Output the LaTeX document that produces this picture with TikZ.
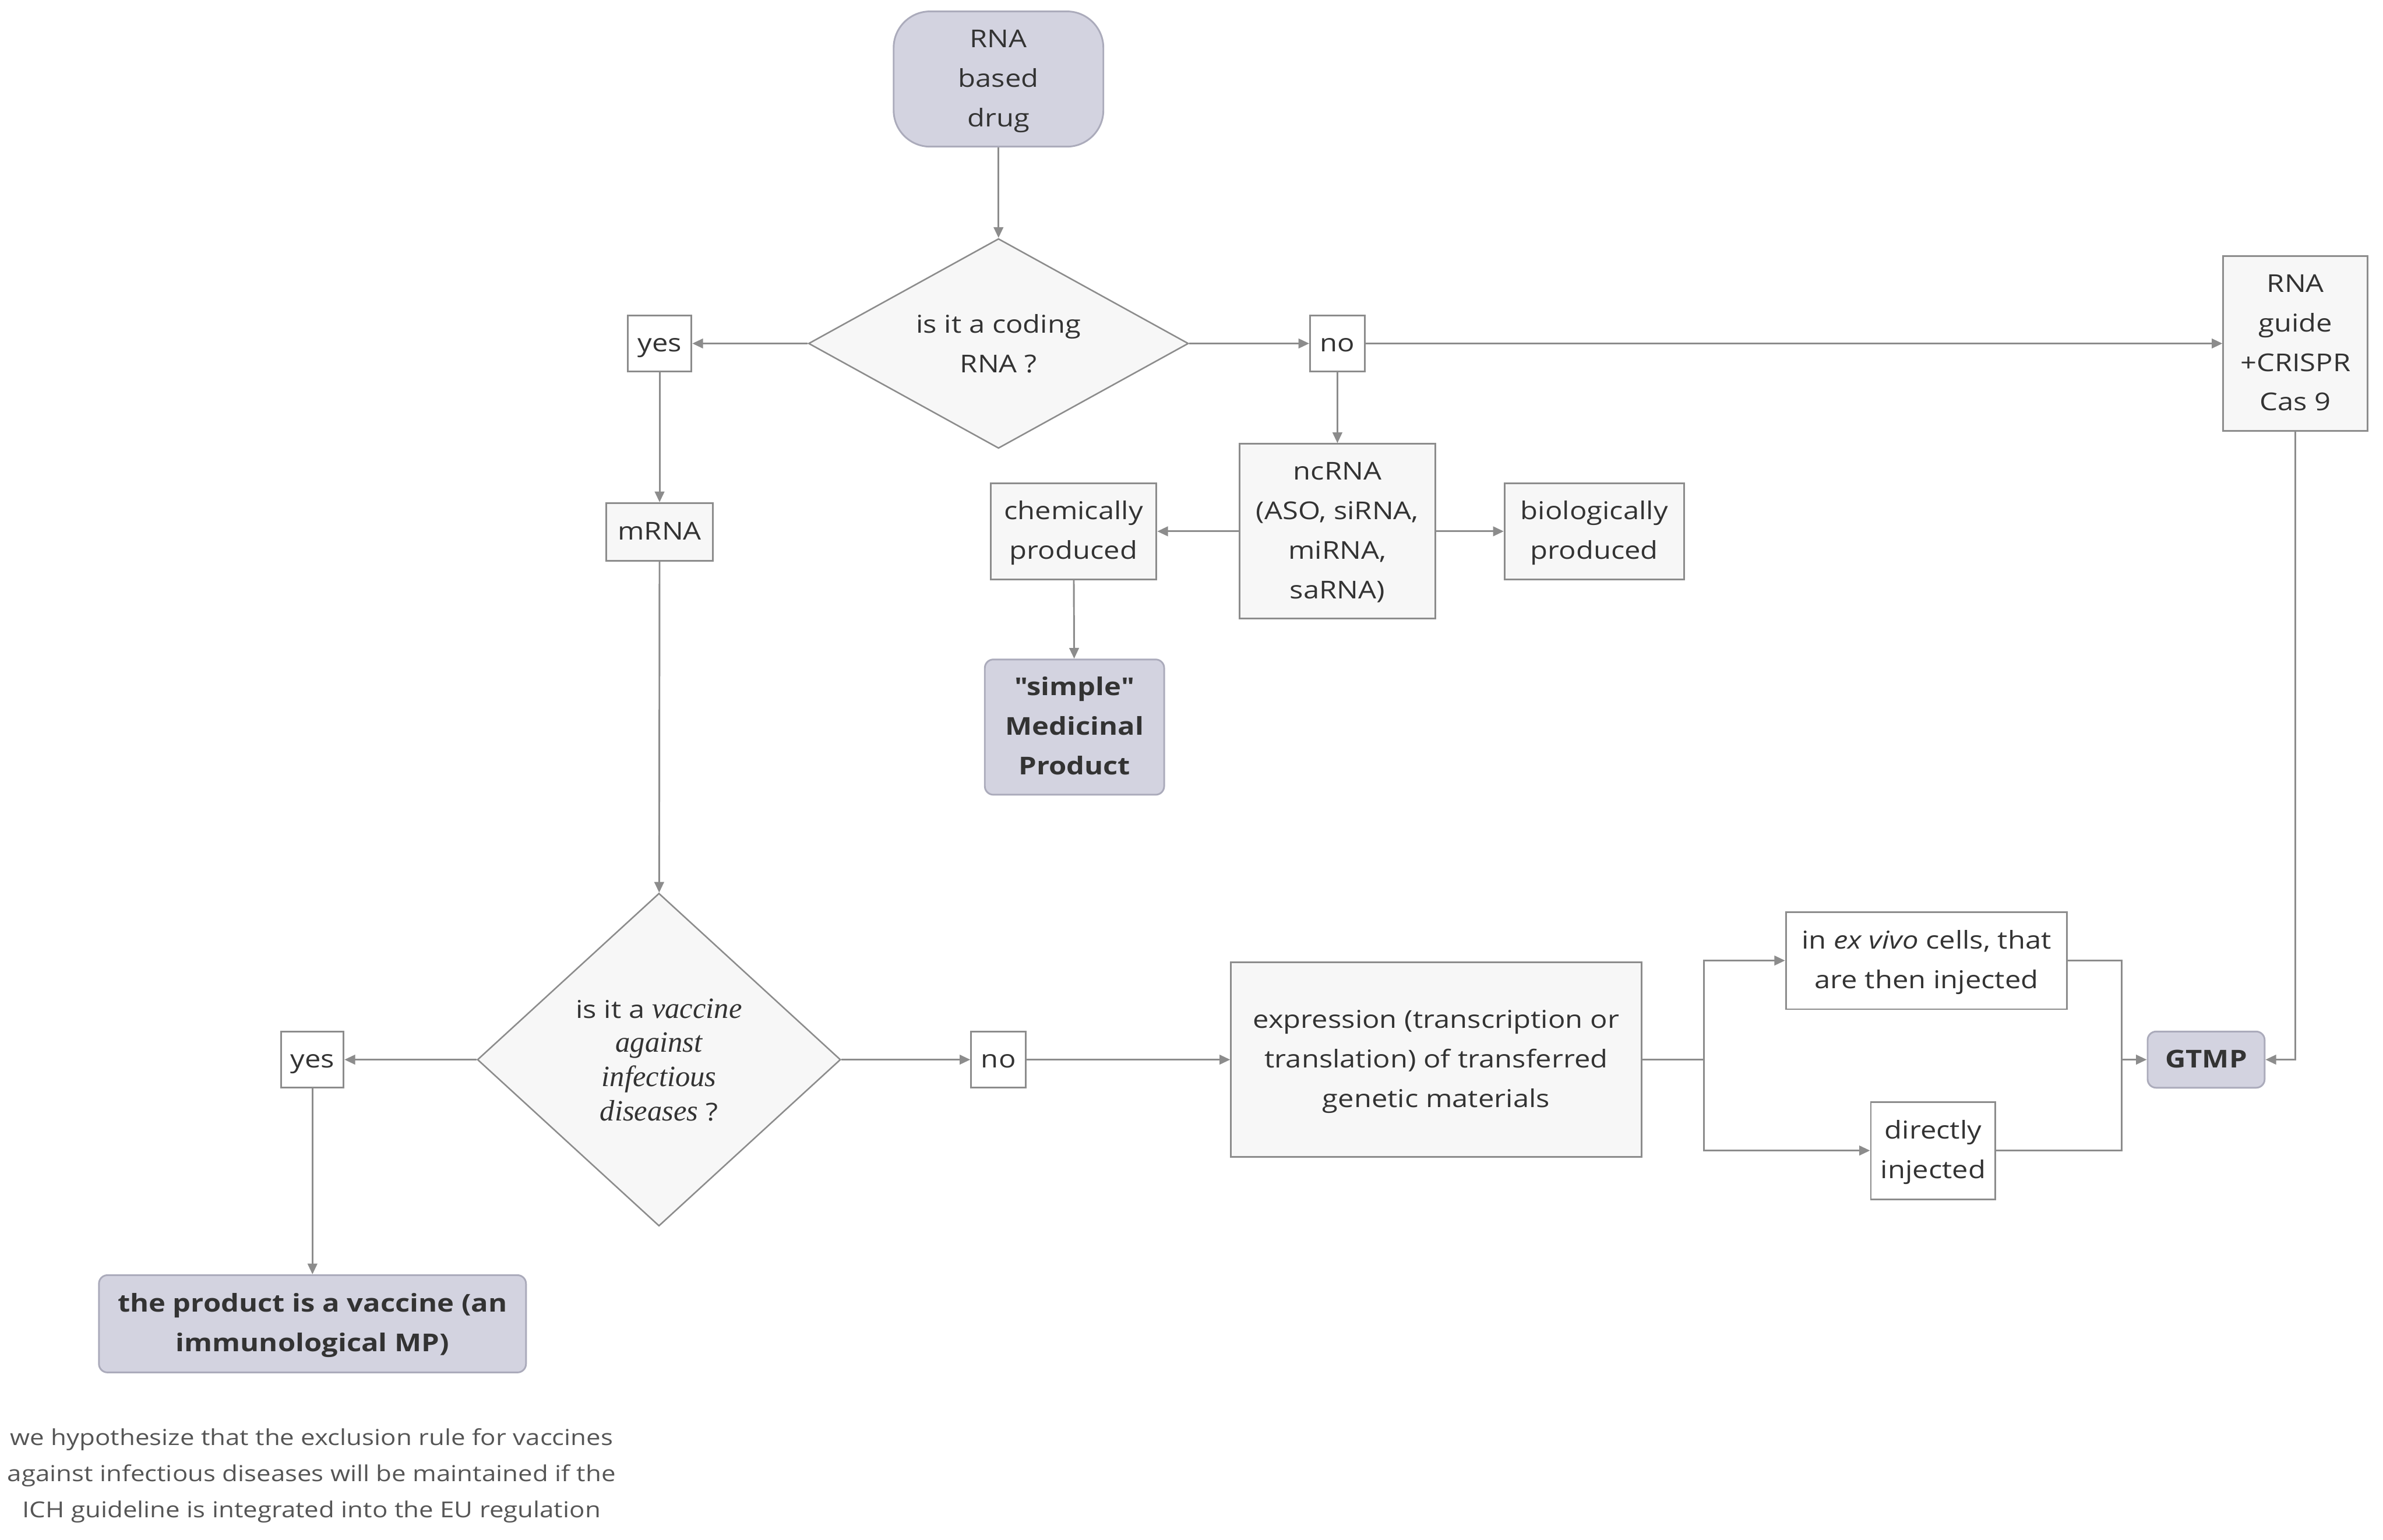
\documentclass[tikz,border=0pt]{standalone}
\usepackage{fontspec}
\setmainfont{Open Sans}[FakeStretch=1.16, Ligatures=TeXOff]
\newfontfamily\qserif{Liberation Serif}[Scale=1.2]
\usetikzlibrary{shapes,arrows.meta,positioning}

\definecolor{lineg}{HTML}{8C8C8C}
\definecolor{boxg}{HTML}{F7F7F7}
\definecolor{lav}{HTML}{D3D3E0}
\definecolor{lavline}{HTML}{ABABBB}
\definecolor{txt}{HTML}{333333}
\definecolor{notetxt}{HTML}{555555}

% struts on first and last line push the text a little lower in its box
\newcommand{\vstrut}{\rule[-0.3em]{0pt}{1.25em}}
\newcommand{\boxtext}[1]{\vstrut#1\vstrut}

\begin{document}
\begin{tikzpicture}[
    font=\fontsize{11.5}{18.5}\selectfont,
    box/.style={rectangle, draw=lineg, fill=boxg, align=center, text=txt, inner sep=1pt, line width=0.8pt},
    tag/.style={box, fill=white, minimum height=0.925cm},
    result/.style={rectangle, rounded corners=4pt, draw=lavline, fill=lav, align=center, text=txt, inner sep=1pt, line width=0.8pt, font=\fontsize{11.5}{18.5}\selectfont\bfseries},
    decision/.style={diamond, draw=lineg, fill=boxg, align=center, text=txt, inner sep=0pt, line width=0.7pt},
    ptr/.style={-{Triangle[length=5pt,width=4.5pt]}, draw=lineg, line width=0.8pt},
    wire/.style={draw=lineg, line width=0.8pt}
]
    \useasboundingbox (0,0) rectangle (39.2,-25.325);

    % top branch
    \node[result, rounded corners=0.6cm, font=\fontsize{11.5}{18.5}\selectfont, minimum width=3.45cm, minimum height=2.225cm] (drug) at (16.425,-1.3) {\boxtext{RNA\\based\\drug}};
    \node[decision, aspect=1.8, minimum width=6.25cm, minimum height=3.45cm] (dec1) at (16.425,-5.65) {is it a coding\\RNA ?};
    \node[tag, minimum width=1.05cm] (yes1) at (10.85,-5.65) {\boxtext{yes}};
    \node[tag, minimum width=0.9cm] (no1) at (22.0,-5.65) {\boxtext{no}};
    \node[box, minimum width=2.375cm, minimum height=2.875cm] (guide) at (37.76,-5.65) {\boxtext{RNA\\guide\\+CRISPR\\Cas 9}};
    \node[box, minimum width=1.75cm, minimum height=0.95cm] (mrna) at (10.85,-8.75) {\boxtext{mRNA}};
    \node[box, minimum width=3.225cm, minimum height=2.875cm] (ncrna) at (22.0,-8.74) {\boxtext{ncRNA\\(ASO, siRNA,\\miRNA,\\saRNA)}};
    \node[box, minimum width=2.725cm, minimum height=1.575cm] (chem) at (17.66,-8.74) {\boxtext{chemically\\produced}};
    \node[box, minimum width=2.95cm, minimum height=1.575cm] (bio) at (26.225,-8.74) {\boxtext{biologically\\produced}};
    \node[result, minimum width=2.95cm, minimum height=2.225cm] (simple) at (17.675,-11.96) {\boxtext{"simple"\\Medicinal\\Product}};

    % bottom branch
    \node[decision, aspect=1.1, minimum width=5.975cm, minimum height=5.475cm, font=\fontsize{11.5}{16}\selectfont] (dec2) at (10.84,-17.43) {is it a {\qserif\itshape vaccine}\\{\qserif\itshape against}\\{\qserif\itshape infectious}\\{\qserif\itshape diseases} ?};
    \node[tag, minimum width=1.025cm] (yes2) at (5.14,-17.43) {\boxtext{yes}};
    \node[tag, minimum width=0.9cm] (no2) at (16.425,-17.43) {\boxtext{no}};
    \node[box, minimum width=6.75cm, minimum height=3.2cm] (expr) at (23.625,-17.43) {\boxtext{expression (transcription or\\translation) of transferred\\genetic materials}};
    \node[box, fill=white, minimum width=4.625cm, minimum height=1.6cm] (exvivo) at (31.69,-15.8) {\boxtext{in \textit{ex vivo} cells, that\\are then injected}};
    \node[box, fill=white, minimum width=2.05cm, minimum height=1.6cm] (direct) at (31.8,-18.925) {\boxtext{directly\\injected}};
    \node[result, minimum width=1.925cm, minimum height=0.925cm] (gtmp) at (36.29,-17.43) {\boxtext{GTMP}};
    \node[result, minimum width=7.025cm, minimum height=1.6cm] (vacc) at (5.14,-21.775) {\boxtext{the product is a vaccine (an\\immunological MP)}};
    \node[align=center, text=notetxt, font=\fontsize{10.3}{17}\selectfont] (note) at (5.125,-24.25) {\boxtext{we hypothesize that the exclusion rule for vaccines\\against infectious diseases will be maintained if the\\ICH guideline is integrated into the EU regulation}};

    \coordinate (split) at (28.025,-17.43);
    \coordinate (join) at (34.9,-17.43);

    \draw[ptr] (drug) -- (dec1);
    \draw[ptr] (dec1) -- (yes1);
    \draw[ptr] (dec1) -- (no1);
    \draw[ptr] (no1) -- (guide);
    \draw[ptr] (no1) -- (ncrna);
    \draw[ptr] (yes1) -- (mrna);
    \draw[ptr] (ncrna) -- (chem);
    \draw[ptr] (ncrna) -- (bio);
    \draw[ptr] (chem) -- (simple);
    \draw[ptr] (mrna) -- (dec2);
    \draw[ptr] (dec2) -- (yes2);
    \draw[ptr] (dec2) -- (no2);
    \draw[ptr] (no2) -- (expr);
    \draw[ptr] (yes2) -- (vacc);
    \draw[wire] (expr) -- (split);
    \draw[ptr] (split) |- (exvivo.west);
    \draw[ptr] (split) |- (direct.west);
    \draw[wire] (exvivo.east) -| (join);
    \draw[wire] (direct.east) -| (join);
    \draw[ptr] (join) -- (gtmp);
    \draw[ptr] (guide.south) |- (gtmp.east);
\end{tikzpicture}
\end{document}
